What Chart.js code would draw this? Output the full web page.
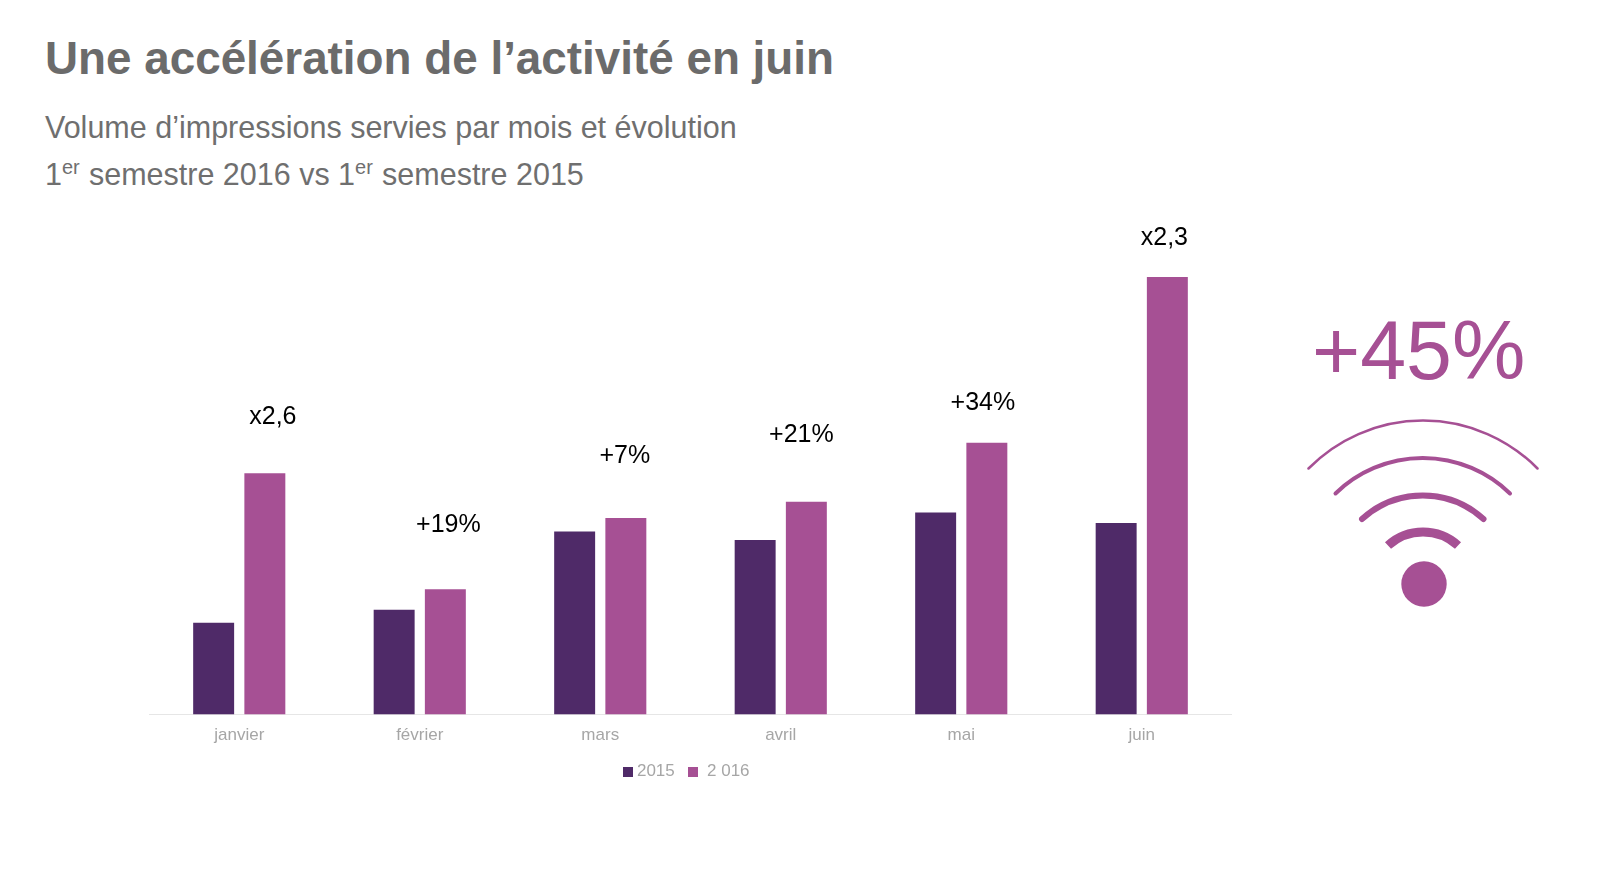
<!DOCTYPE html>
<html lang="fr">
<head>
<meta charset="utf-8">
<title>Une accélération de l’activité en juin</title>
<script src="https://cdn.jsdelivr.net/npm/chart.js@4/dist/chart.umd.min.js"></script>
<style>
html,body{margin:0;padding:0;background:#fff;width:1622px;height:893px;overflow:hidden;font-family:"Liberation Sans",Arial,sans-serif}
.t{position:absolute;white-space:nowrap;line-height:1}
#title{left:45px;top:36px;font-size:45.8px;font-weight:bold;color:#6b6b6b}
#sub1{left:45px;top:112px;font-size:30.5px;color:#6f6f6f}
#sub2{left:45px;top:159px;font-size:30.5px;color:#6f6f6f}
sup{font-size:20px;line-height:0;vertical-align:baseline;position:relative;top:-11px;margin-right:.7px}
#kpi{left:1312px;top:309px;font-size:82.5px;color:#a65094}
#chartBox{position:absolute;left:149px;top:200px;width:1083px;height:602px}
#wifi{position:absolute;left:0;top:0}
</style>
</head>
<body>
<div class="t" id="title">Une accélération de l’activité en juin</div>
<div class="t" id="sub1">Volume d’impressions servies par mois et évolution</div>
<div class="t" id="sub2">1<sup>er</sup> semestre 2016 vs 1<sup>er</sup> semestre 2015</div>
<div class="t" id="kpi">+45%</div>
<div id="chartBox"><canvas id="c"></canvas></div>
<svg id="wifi" width="1622" height="893" fill="none" stroke="#a65094" stroke-linecap="round">
  <path d="M1308.5 468.5A160.6 160.6 0 0 1 1537.5 468.5" stroke-width="2.5"/>
  <path d="M1335.5 493.5A125 125 0 0 1 1510 493.5" stroke-width="4"/>
  <path d="M1362 519A90.6 90.6 0 0 1 1483.5 519" stroke-width="6"/>
  <path d="M1388 545.5A52 52 0 0 1 1458 545.5" stroke-width="9" stroke-linecap="butt"/>
  <circle cx="1424" cy="584" r="22.7" fill="#a65094" stroke="none"/>
</svg>
<script>
const categories = ["janvier","février","mars","avril","mai","juin"];
const series2015Name = "2015";
const series2016Name = "2 016";
const values2015 = [91.5,104.5,182.5,174,201.5,191];
const values2016 = [240.5,125,196,212,271,436];
const evolutionLabels = ["x2,6","+19%","+7%","+21%","+34%","x2,3"];

const DARK = "#4f2a68", LIGHT = "#a65094";
// hand placement of the evolution labels relative to the 2016 bar (px)
const labelShiftX = [8,3,-1,-5,-4,-3];
const labelLift = [56,64,62,66.5,40,39];

const evolutionPlugin = {
  id:"evolution",
  afterLayout(chart){
    chart.legend.top -= 12;
    chart.legend.bottom -= 12;
    chart.legend.left -= 2;
    chart.legend.right -= 2;
  },
  afterDatasetsDraw(chart){
    const {ctx} = chart, bars = chart.getDatasetMeta(1).data;
    ctx.save();
    ctx.font = '25px "Liberation Sans", Arial, sans-serif';
    ctx.fillStyle = "#000";
    ctx.textAlign = "center";
    ctx.textBaseline = "middle";
    bars.forEach((b,i)=>ctx.fillText(evolutionLabels[i], b.x+labelShiftX[i], b.y-labelLift[i]));
    ctx.restore();
  }
};

function swatch(color){
  const s = document.createElement("canvas");
  s.width = 10; s.height = 10;
  const g = s.getContext("2d");
  g.fillStyle = color; g.fillRect(0,0,10,10);
  return s;
}

new Chart(document.getElementById("c"),{
  type:"bar",
  data:{labels:categories,datasets:[
    {label:series2015Name,data:values2015,backgroundColor:DARK},
    {label:series2016Name,data:values2016,backgroundColor:LIGHT}
  ]},
  options:{
    responsive:true,maintainAspectRatio:false,animation:false,
    layout:{padding:{top:63,bottom:0,left:0,right:0}},
    datasets:{bar:{categoryPercentage:0.5673,barPercentage:0.8}},
    plugins:{
      tooltip:{enabled:false},
      legend:{display:true,position:"bottom",
        labels:{usePointStyle:true,pointStyleWidth:1,boxHeight:10,padding:18,
          color:"#a6a6a6",font:{family:'"Liberation Sans", Arial, sans-serif',size:17},
          generateLabels(chart){
            const items = Chart.defaults.plugins.legend.labels.generateLabels(chart);
            items.forEach(it=>{
              it.pointStyle = swatch(chart.data.datasets[it.datasetIndex].backgroundColor);
              if(it.datasetIndex===1) it.text = "\u00a0"+it.text;
            });
            return items;
          }}}
    },
    scales:{
      x:{grid:{display:false,drawTicks:false},border:{display:true,color:"#e6e6e6",width:1},
        ticks:{color:"#a6a6a6",padding:11,maxRotation:0,font:{family:'"Liberation Sans", Arial, sans-serif',size:17}}},
      y:{display:false,min:0,max:450}
    }
  },
  plugins:[evolutionPlugin]
});
</script>
</body>
</html>
